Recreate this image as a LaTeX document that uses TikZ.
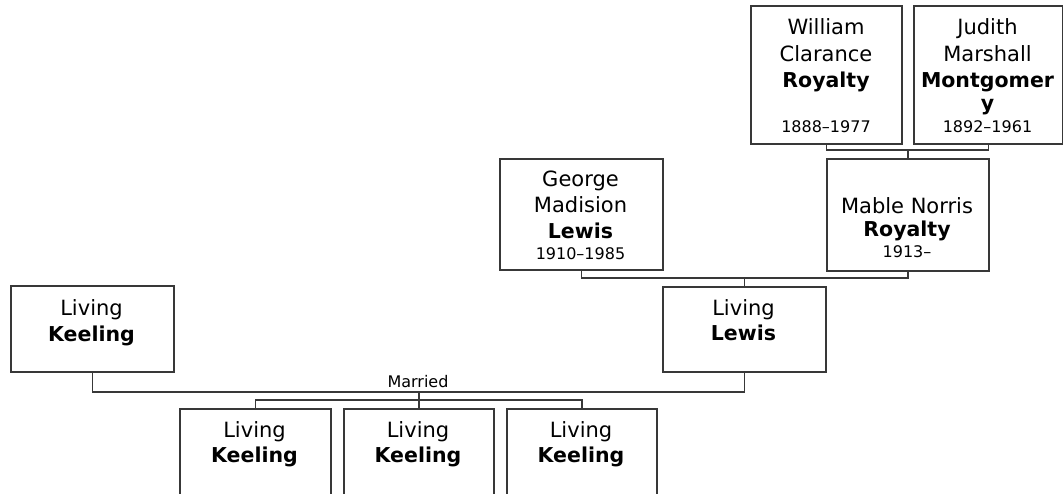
\documentclass[tikz,border=0pt]{standalone}
\usepackage{fontspec}
\setmainfont{DejaVu Sans}
\begin{document}
\begin{tikzpicture}[x=1pt,y=-1pt,
  box/.style={draw=black!78,line width=1.5pt,fill=white,rectangle,inner sep=0pt,anchor=north west},
  nm/.style={anchor=base,inner sep=0pt,font=\fontsize{21}{24}\selectfont},
  sn/.style={anchor=base,inner sep=0pt,font=\bfseries\fontsize{20.5}{24}\selectfont},
  dt/.style={anchor=base,inner sep=0pt,font=\fontsize{16}{19}\selectfont},
  link/.style={draw=black!78,line width=1.5pt}]
\useasboundingbox (0,0) rectangle (1063,493);
\clip (0,0) rectangle (1063,493);
% boxes
\node[box,minimum width=151pt,minimum height=138pt] (wr) at (750,5) {};
\node[box,minimum width=149pt,minimum height=138pt] (jm) at (913,5) {};
\node[box,minimum width=162pt,minimum height=112pt] (mn) at (826,158) {};
\node[box,minimum width=163pt,minimum height=111pt] (gl) at (499,158) {};
\node[box,minimum width=163pt,minimum height=85pt] (ll) at (662,286) {};
\node[box,minimum width=163pt,minimum height=86pt] (lk) at (10,285) {};
\node[box,minimum width=151pt,minimum height=86pt] (c1) at (179,408) {};
\node[box,minimum width=150pt,minimum height=86pt] (c2) at (343,408) {};
\node[box,minimum width=150pt,minimum height=86pt] (c3) at (506,408) {};
% texts
\node[nm] (wr1) at (826,34) {William};
\node[nm] (wr2) at (826,61) {Clarance};
\node[sn] (wr3) at (826,87) {Royalty};
\node[dt] (wr4) at (826,132) {1888–1977};
\node[nm] (jm1) at (987.5,34) {Judith};
\node[nm] (jm2) at (987.5,61) {Marshall};
\node[sn] (jm3) at (987.5,87) {Montgomer};
\node[sn] (jm4) at (987.5,110) {y};
\node[dt] (jm5) at (987.5,132.5) {1892–1961};
\node[nm] (mn1) at (907,213) {Mable Norris};
\node[sn] (mn2) at (907,236) {Royalty};
\node[dt] (mn3) at (907,257) {1913–};
\node[nm] (gl1) at (580.5,186) {George};
\node[nm] (gl2) at (580.5,212) {Madision};
\node[sn] (gl3) at (580.5,238) {Lewis};
\node[dt] (gl4) at (580.5,259) {1910–1985};
\node[nm] (ll1) at (743.5,315) {Living};
\node[sn] (ll2) at (743.5,340) {Lewis};
\node[nm] (lk1) at (91.5,315) {Living};
\node[sn] (lk2) at (91.5,341) {Keeling};
\node[nm] (c1a) at (254.5,437) {Living};
\node[sn] (c1b) at (254.5,462) {Keeling};
\node[nm] (c2a) at (418,437) {Living};
\node[sn] (c2b) at (418,462) {Keeling};
\node[nm] (c3a) at (581,437) {Living};
\node[sn] (c3b) at (581,462) {Keeling};
% connectors
\coordinate (m1) at (mn.north |- 0,150);
\coordinate (m2) at (ll.north |- 0,278);
\coordinate (m3) at (c2.north |- 0,392);
\coordinate (s) at (c2.north |- 0,400);
\draw[link] (wr.south) |- (m1) -| (jm.south);
\draw[link] (m1) -- (mn.north);
\draw[link] (gl.south) |- (m2) -| (mn.south);
\draw[link] (m2) -- (ll.north);
\draw[link] (lk.south) |- (m3) -| (ll.south);
\node[dt] (mar) at (418,387) {Married};
\draw[link] (m3) -- (s);
\draw[link] (c1.north) |- (s) -| (c3.north);
\draw[link] (s) -- (c2.north);
\end{tikzpicture}
\end{document}
